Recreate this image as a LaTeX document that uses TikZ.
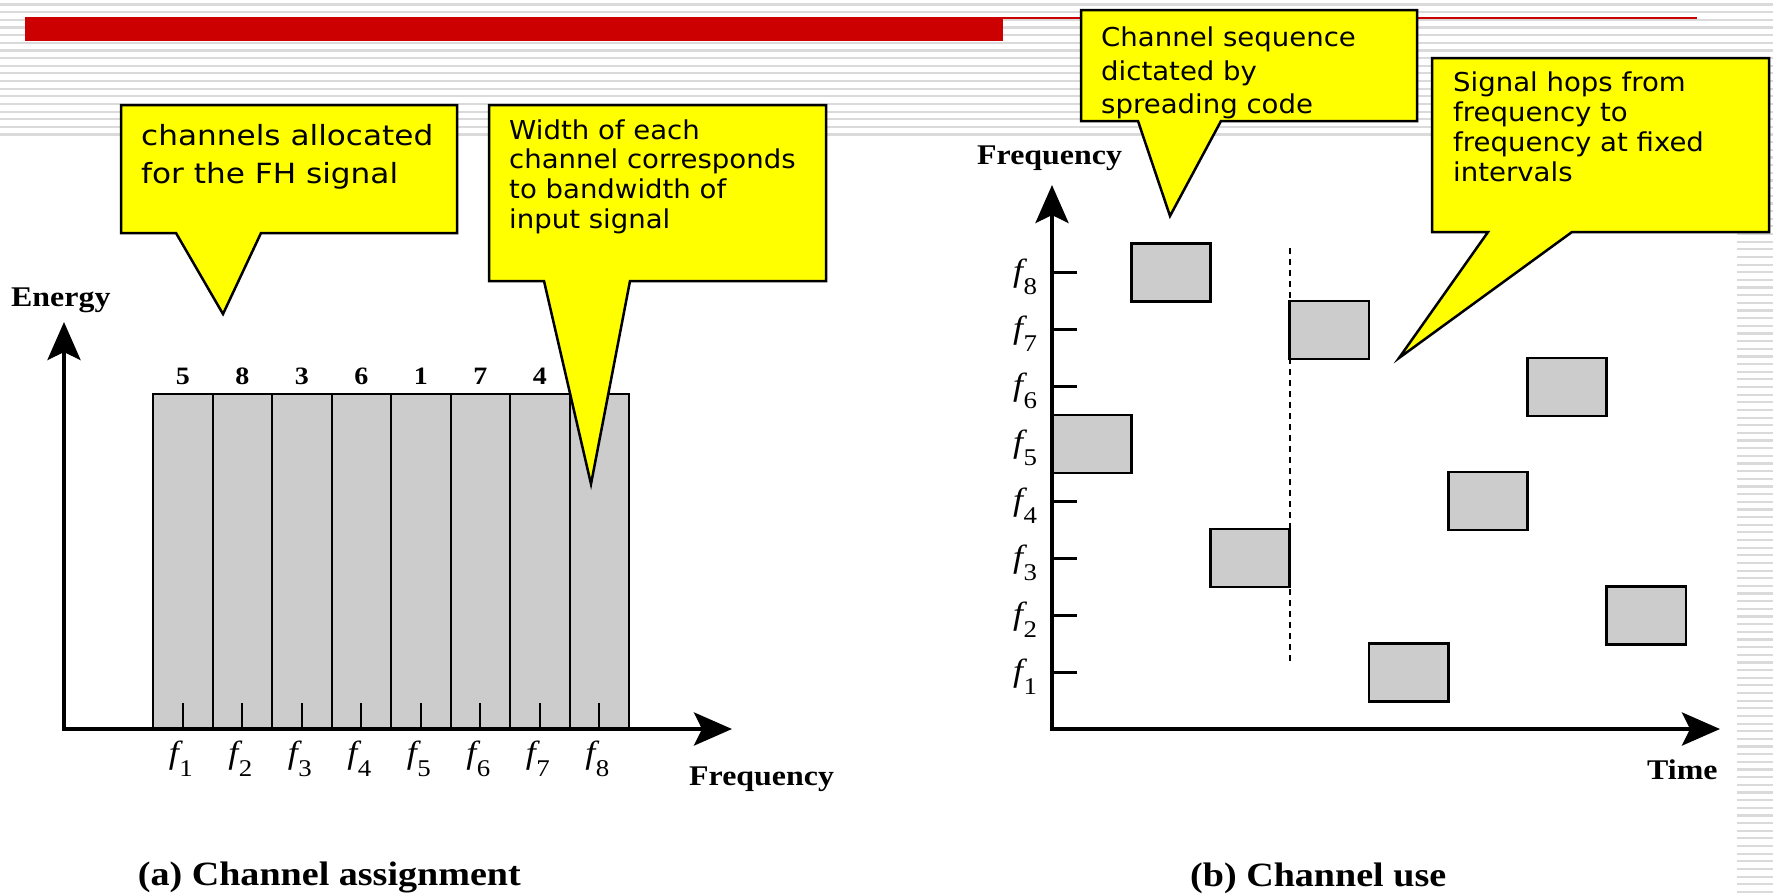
\documentclass[tikz,border=0pt]{standalone}
\usepackage{fontspec}
\setmainfont{Liberation Serif}
\newfontfamily\callfont[FakeStretch=1.06]{DejaVu Sans}
\newfontfamily\callfontw[FakeStretch=1.12]{DejaVu Sans}
\newfontfamily\figfont[FakeStretch=1.12]{Liberation Serif}
\usetikzlibrary{arrows.meta}
\definecolor{stripe}{RGB}{218,218,218}
\definecolor{slidered}{RGB}{204,0,0}
\definecolor{barfill}{RGB}{204,204,204}
\definecolor{callyellow}{RGB}{255,255,0}
\newcommand\flab[1]{{\itshape f}\kern0.5pt\raisebox{-13pt}{\fontsize{24}{24}\selectfont #1}}
\tikzset{
  bigtip/.tip={Stealth[length=38pt,width=33pt,inset=8pt]},
  axisline/.style={line width=4.5pt, line join=miter},
  barbox/.style={draw=black, fill=barfill, line width=2pt, inner sep=0pt,
    minimum width=59.5pt, minimum height=335pt},
  hopbox/.style={draw=black, fill=barfill, line width=2.6pt, inner sep=0pt,
    minimum width=79.25pt, minimum height=58pt},
  tickl/.style={line width=2pt},
  tickr/.style={line width=3pt},
  dashline/.style={line width=1.8pt, dash pattern=on 6pt off 5pt},
  callout/.style={fill=callyellow, draw=black, line width=2.5pt, line join=miter},
  axlabel/.style={inner sep=0pt, font={\figfont\bfseries\fontsize{28.5}{30}\selectfont}},
  caption/.style={inner sep=0pt, font={\figfont\bfseries\fontsize{34}{36}\selectfont}},
  num/.style={inner sep=0pt, font={\figfont\bfseries\fontsize{25}{26}\selectfont}},
  flabel/.style={inner sep=0pt, font={\figfont\fontsize{32}{32}\selectfont}},
  ctext/.style={inner sep=0pt, anchor=base west},
}
\begin{document}
\begin{tikzpicture}[x=1pt,y=-1pt]
\useasboundingbox (0,0) rectangle (1773,895);
% slide background stripes
\foreach \k in {0,...,116} {
  \fill[stripe] (0,{3.4+7.65*\k}) rectangle (1773,{5.6+7.65*\k});
}
\fill[white] (0,137) rectangle (1737,895);
% red title bar
\fill[slidered] (25,16.7) rectangle (1003,40.7);
\fill[slidered] (1003,16.8) rectangle (1697,18.8);

% ---------------- (a) Channel assignment ----------------
\foreach \n [count=\i] in {5,8,3,6,1,7,4} {
  \node[num, anchor=base] (num\i) at ({153+59.5*(\i-0.5)},384.5) {\n};
}
\foreach \i in {1,...,8} {
  \node[barbox] (bar\i) at ({153+59.5*(\i-0.5)},561.5) {};
  \draw[tickl] ({153+59.5*(\i-0.5)},703) -- ({153+59.5*(\i-0.5)},729);
  \node[flabel, anchor=base] (fa\i) at ({151+59.5*(\i-0.5)},763.5) {\flab{\i}};
}
\coordinate (Ltop) at (64,322);
\coordinate (Lorig) at (64,729);
\coordinate (Lright) at (732,729);
\draw[axisline, bigtip-bigtip] (Ltop) -- (Lorig) -- (Lright);
\node[axlabel, anchor=base west] (energy) at (11,306) {Energy};
\node[axlabel, anchor=base west] (freqa) at (689,785) {Frequency};
\node[caption, anchor=base west] (capa) at (137.7,885) {(a) Channel assignment};

% ---------------- (b) Channel use ----------------
\foreach \k in {1,...,8} {
  \draw[tickr] (1052,{672.3-57.08*(\k-1)}) -- (1077,{672.3-57.08*(\k-1)});
  \node[flabel, anchor=base] (fb\k) at (1025,{681.3-57.08*(\k-1)}) {\flab{\k}};
}
\draw[dashline] (1289.75,248) -- (1289.75,663);
\foreach \f [count=\i] in {5,8,3,7,1,4,6,2} {
  \node[hopbox] (slot\i) at ({1052+79.25*(\i-0.5)},{672.3-57.08*(\f-1)}) {};
}
\coordinate (Rtop) at (1052,185);
\coordinate (Rorig) at (1052,729);
\coordinate (Rright) at (1720,729);
\draw[axisline, bigtip-bigtip] (Rtop) -- (Rorig) -- (Rright);
\node[axlabel, anchor=base west] (freqb) at (977,164) {Frequency};
\node[axlabel, anchor=base west] (time) at (1647,779) {Time};
\node[caption, anchor=base west] (capb) at (1190,886) {(b) Channel use};

% ---------------- callouts ----------------
\draw[callout] (121,105) -- (457,105) -- (457,233) -- (261,233) -- (223,314) -- (176,233) -- (121,233) -- cycle;
\node[ctext, font={\callfontw\fontsize{27.8}{37.6}\selectfont}] (c1) at (141,145.7)
  {\vtop{\hbox{channels allocated}\hbox{for the FH signal}}};

\draw[callout] (489,105) -- (826,105) -- (826,281) -- (630,281) -- (591,484) -- (544,281) -- (489,281) -- cycle;
\node[ctext, font={\callfont\fontsize{26}{29.8}\selectfont}] (c2) at (509,139)
  {\vtop{\hbox{Width of each}\hbox{channel corresponds}\hbox{to bandwidth of}\hbox{input signal}}};

\draw[callout] (1081,10) -- (1417,10) -- (1417,121) -- (1221,121) -- (1170,216) -- (1138,121) -- (1081,121) -- cycle;
\node[ctext, font={\callfont\fontsize{26}{33.3}\selectfont}] (c3) at (1101,46.7)
  {\vtop{\hbox{Channel sequence}\hbox{dictated by}\hbox{spreading code}}};

\draw[callout] (1432,58) -- (1769,58) -- (1769,232) -- (1572,232) -- (1399,358) -- (1488,232) -- (1432,232) -- cycle;
\node[ctext, font={\callfont\fontsize{26}{30.2}\selectfont}] (c4) at (1453,91)
  {\vtop{\hbox{Signal hops from}\hbox{frequency to}\hbox{frequency at fixed}\hbox{intervals}}};
\end{tikzpicture}
\end{document}
